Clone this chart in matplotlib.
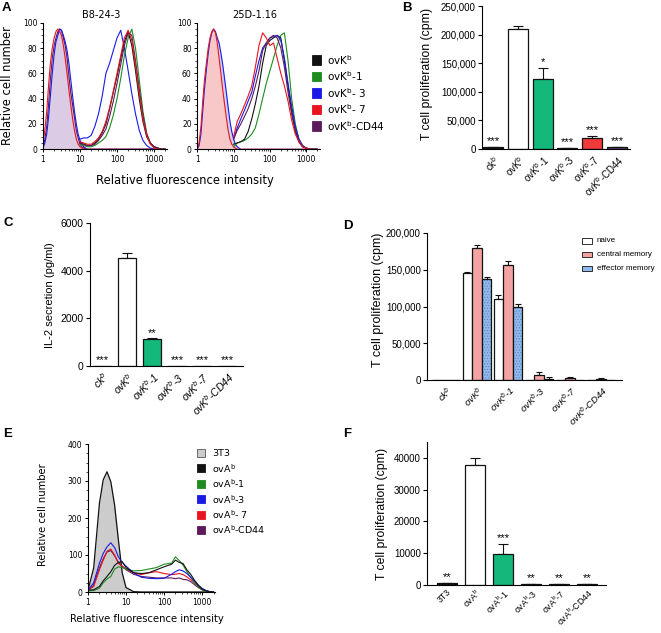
import numpy as np
import matplotlib
matplotlib.use("Agg")
import matplotlib.pyplot as plt
from matplotlib.patches import Rectangle
from matplotlib.ticker import AutoMinorLocator, FuncFormatter

W, H = 661, 633
HIST_FONT = ["DejaVu Sans"]
BAR_FONT = ["Liberation Sans", "DejaVu Sans"]

plt.rcParams["font.family"] = BAR_FONT
plt.rcParams["axes.linewidth"] = 0.8
plt.rcParams["hatch.linewidth"] = 0.5

C_BLACK, C_GREEN, C_BLUE, C_RED, C_PURPLE = "#111111", "#1e8c1e", "#1a1ae6", "#e8141e", "#5c1a5c"
BAR_GREEN, BAR_RED = "#14b87a", "#f03a3a"

# ===== Data =====
# A: flow histograms, x = relative fluorescence, y = relative cell number
lo_x = [1.0, 1.12, 1.26, 1.41, 1.58, 1.78, 2.0, 2.24, 2.51, 2.82, 3.16, 3.55, 3.98,
        4.47, 5.01, 5.62, 6.31, 7.08, 7.94, 8.91, 10.0, 11.2, 12.6, 14.1, 15.8, 2000]
hi_x = [10, 12.6, 15.8, 20, 25.1, 31.6, 39.8, 50.1, 63.1, 79.4, 100, 126, 158, 200,
        251, 316, 398, 501, 631, 794, 1000, 1259, 1585, 1995]

# B8-24-3
a1_iso = [2, 8, 18, 35, 55, 72, 82, 88, 93, 95, 94, 88, 82, 72, 58, 45, 35, 25, 15, 9, 4, 2, 1, 0, 0, 0]
a1_iso_red = [5, 15, 30, 50, 68, 80, 88, 93, 95, 93, 90, 82, 72, 60, 47, 35, 24, 15, 8, 4, 2, 1, 0, 0, 0, 0]
a1_iso_blue = [1, 5, 12, 25, 42, 60, 75, 85, 90, 95, 94, 90, 85, 78, 68, 55, 42, 30, 20, 12, 7, 4, 2, 1, 0, 0]
a1_black = [5, 4, 3, 3, 5, 8, 13, 20, 32, 45, 58, 72, 85, 93, 82, 62, 40, 22, 10, 5, 2, 1, 0, 0]
a1_red = [6, 5, 4, 4, 6, 9, 14, 22, 33, 46, 60, 74, 88, 94, 86, 66, 44, 24, 11, 4, 1, 0, 0, 0]
a1_purple = [5, 4, 3, 3, 4, 7, 11, 16, 26, 38, 52, 67, 82, 92, 90, 70, 48, 27, 12, 5, 2, 1, 0, 0]
a1_green = [4, 3, 2, 2, 3, 5, 7, 10, 17, 27, 40, 56, 74, 88, 95, 80, 55, 30, 13, 5, 2, 1, 0, 0]
a1_blue = [8, 9, 9, 11, 18, 28, 42, 60, 68, 78, 88, 94, 80, 62, 44, 28, 15, 7, 3, 1, 0, 0, 0, 0]

# 25D-1.16
a2_iso_red = [0, 5, 18, 38, 55, 68, 80, 88, 93, 95, 92, 84, 72, 60, 47, 36, 25, 15, 8, 4, 2, 1, 0, 0, 0, 0]
a2_iso_blue = [0, 3, 12, 30, 48, 63, 76, 86, 92, 95, 93, 88, 84, 76, 67, 56, 45, 33, 22, 14, 8, 4, 2, 1, 0, 0]
a2_red = [10, 22, 28, 35, 42, 50, 65, 82, 92, 88, 82, 84, 72, 60, 50, 38, 23, 12, 6, 2, 1, 0, 0, 0]
a2_purple = [8, 15, 20, 26, 32, 40, 50, 62, 78, 84, 88, 90, 88, 80, 65, 45, 28, 14, 6, 2, 1, 0, 0, 0]
a2_blue = [8, 17, 24, 31, 38, 45, 58, 70, 80, 84, 88, 89, 90, 86, 72, 52, 34, 18, 8, 3, 1, 0, 0, 0]
a2_black = [4, 5, 6, 8, 14, 24, 36, 50, 68, 82, 86, 88, 90, 88, 70, 50, 30, 15, 6, 2, 1, 0, 0, 0]
a2_green = [2, 5, 6, 7, 9, 12, 17, 28, 40, 52, 62, 72, 82, 90, 92, 70, 40, 20, 8, 3, 1, 0, 0, 0]

a_legend = ["ovK$^\\mathregular{b}$", "ovK$^\\mathregular{b}$-1", "ovK$^\\mathregular{b}$- 3",
            "ovK$^\\mathregular{b}$- 7", "ovK$^\\mathregular{b}$-CD44"]

# E: ovA histograms
e_x = [1.0, 1.41, 2.0, 2.51, 3.16, 3.98, 5.01, 6.31, 7.94, 10, 15.8, 25.1, 39.8, 63.1,
       100, 158, 200, 251, 316, 398, 501, 631, 794, 1000, 1259, 1585, 1995]
e_3t3 = [5, 65, 240, 303, 325, 298, 235, 140, 52, 12, 1, 0, 0, 0, 0, 0, 0, 0, 0, 0, 0, 0, 0, 0, 0, 0, 0]
e_blue = [5, 25, 78, 104, 122, 133, 120, 95, 80, 70, 52, 40, 37, 36, 37, 48, 55, 60, 57, 50, 40, 30, 18, 10, 4, 1, 0]
e_red = [5, 15, 60, 86, 110, 116, 100, 77, 70, 62, 52, 47, 52, 55, 50, 47, 48, 50, 47, 41, 33, 25, 15, 8, 4, 1, 0]
e_black = [5, 6, 15, 30, 42, 55, 72, 80, 82, 66, 52, 50, 52, 60, 68, 75, 86, 80, 77, 60, 48, 32, 19, 8, 3, 1, 0]
e_green = [3, 4, 10, 25, 35, 42, 62, 68, 66, 62, 57, 58, 62, 66, 75, 78, 95, 85, 73, 55, 40, 25, 15, 6, 2, 0, 0]
e_purple = [5, 18, 65, 90, 108, 112, 98, 80, 70, 60, 48, 42, 40, 38, 38, 38, 36, 38, 34, 33, 28, 20, 12, 6, 2, 0, 0]
e_legend = ["3T3", "ovA$^\\mathregular{b}$", "ovA$^\\mathregular{b}$-1", "ovA$^\\mathregular{b}$-3",
            "ovA$^\\mathregular{b}$- 7", "ovA$^\\mathregular{b}$-CD44"]

# B/C/D: ovK constructs
k_labels = ["ck$^\\mathregular{b}$", "ovK$^\\mathregular{b}$", "ovK$^\\mathregular{b}$-1",
            "ovK$^\\mathregular{b}$-3", "ovK$^\\mathregular{b}$-7", "ovK$^\\mathregular{b}$-CD44"]
b_vals = [3000, 210000, 122000, 1500, 20000, 3000]
b_err = [1000, 5000, 20000, 500, 3000, 1000]
b_stars = ["***", "", "*", "***", "***", "***"]

c_vals = [0, 4520, 1120, 0, 0, 0]
c_err = [0, 230, 40, 0, 0, 0]
c_stars = ["***", "", "**", "***", "***", "***"]

d_naive = [0, 145000, 110000, 500, 500, 500]
d_naive_err = [0, 2500, 6000, 0, 0, 0]
d_central = [0, 180000, 156000, 7000, 3000, 2000]
d_central_err = [0, 4000, 6000, 4000, 1000, 1000]
d_effector = [0, 137000, 100000, 1500, 500, 500]
d_effector_err = [0, 2500, 4000, 2500, 0, 0]
d_legend = ["naive", "central memory", "effector memory"]

# F: ovA constructs
f_labels = ["3T3", "ovA$^\\mathregular{b}$", "ovA$^\\mathregular{b}$-1", "ovA$^\\mathregular{b}$-3",
            "ovA$^\\mathregular{b}$-7", "ovA$^\\mathregular{b}$-CD44"]
f_vals = [500, 37800, 9700, 300, 300, 300]
f_err = [200, 2200, 3200, 100, 100, 100]
f_stars = ["**", "", "***", "**", "**", "**"]

fig = plt.figure(figsize=(W / 100, H / 100), dpi=100)


def px_axes(x0, x1, ytop, ybot):
    return fig.add_axes([x0 / W, 1 - ybot / H, (x1 - x0) / W, (ybot - ytop) / H])


def ftext(x, y, s, **kw):
    fig.text(x / W, 1 - y / H, s, **kw)


def swatches(entries, x, y, step, w, h, gap, fs, family):
    for i, (lab, fc, ec, hatch) in enumerate(entries):
        yy = y + i * step
        fig.add_artist(Rectangle((x / W, 1 - (yy + h / 2) / H), w / W, h / H,
                                 transform=fig.transFigure, facecolor=fc, edgecolor=ec,
                                 lw=0.6, hatch=hatch))
        ftext(x + w + gap, yy, lab, va="center", fontsize=fs, family=family)


def style_hist(ax, xmax, ymax, ystep):
    ax.set_xscale("log")
    ax.set_xlim(1, xmax)
    ax.set_ylim(0, ymax)
    ax.set_xticks([1, 10, 100, 1000])
    ax.set_xticklabels(["1", "10", "100", "1000"])
    ax.set_yticks(np.arange(0, ymax + 1, ystep))
    ax.yaxis.set_minor_locator(AutoMinorLocator(4))
    for s in ["top", "right"]:
        ax.spines[s].set_visible(False)
    ax.tick_params(labelsize=5.5, length=2.5, width=0.7, pad=1.5)
    ax.tick_params(which="minor", length=1.3, width=0.5)
    for t in ax.get_xticklabels() + ax.get_yticklabels():
        t.set_family(HIST_FONT)


def style_bar(ax, labels, xlim, ymax, yticks, fs, xfs, italic=False, comma=False, xpad=3):
    ax.set_xlim(*xlim)
    ax.set_ylim(0, ymax)
    ax.set_yticks(yticks)
    if comma:
        ax.yaxis.set_major_formatter(FuncFormatter(lambda v, p: f"{int(v):,}"))
    ax.set_xticks(range(len(labels)))
    ax.set_xticklabels(labels, rotation=45, ha="right", rotation_mode="anchor",
                       fontsize=xfs, fontstyle="italic" if italic else "normal")
    for s in ["top", "right"]:
        ax.spines[s].set_visible(False)
    ax.tick_params(axis="y", labelsize=fs, length=3, width=0.8, pad=1.5)
    ax.tick_params(axis="x", length=0, pad=xpad)


def draw_bars(ax, vals, err, colors, stars, width, star_fs=8):
    x = np.arange(len(vals))
    ax.bar(x, vals, width, color=colors, edgecolor=C_BLACK, lw=0.9, zorder=2)
    m = np.array(err) > 0
    ax.errorbar(x[m], np.array(vals)[m], yerr=[np.zeros(m.sum()), np.array(err)[m]],
                fmt="none", ecolor=C_BLACK, elinewidth=0.8, capsize=3.5, capthick=0.8, zorder=1)
    for xi, v, e, s in zip(x, vals, err, stars):
        if s:
            ax.annotate(s, (xi, v + e), xytext=(0, 0.5), textcoords="offset points",
                        ha="center", va="bottom", fontsize=star_fs)


# ===== A =====
ax = px_axes(43, 167, 22.7, 149.3)
ax.fill_between(lo_x, a1_iso, color="#dccbe4", lw=0)
ax.plot(lo_x, a1_iso, color=C_PURPLE, lw=0.8)
ax.plot(lo_x, a1_iso_blue, color=C_BLUE, lw=0.8)
ax.plot(lo_x, a1_iso_red, color=C_RED, lw=0.8)
for ys, c in [(a1_blue, C_BLUE), (a1_green, C_GREEN), (a1_black, C_BLACK),
              (a1_purple, C_PURPLE), (a1_red, C_RED)]:
    ax.plot(hi_x, ys, color=c, lw=0.8)
style_hist(ax, 2240, 100, 20)
ftext(101, 15, "B8-24-3", ha="center", va="center", fontsize=7, family=HIST_FONT)

ax = px_axes(197.3, 320, 22.7, 149.3)
ax.fill_between(lo_x, a2_iso_blue, color="#cdd3f3", lw=0)
ax.plot(lo_x, a2_iso_blue, color=C_BLUE, lw=0.8)
ax.fill_between(lo_x, a2_iso_red, color="#f8c8c8", lw=0)
ax.plot(lo_x, a2_iso_red, color=C_RED, lw=0.8)
for ys, c in [(a2_green, C_GREEN), (a2_black, C_BLACK), (a2_blue, C_BLUE),
              (a2_purple, C_PURPLE), (a2_red, C_RED)]:
    ax.plot(hi_x, ys, color=c, lw=0.8)
style_hist(ax, 2400, 100, 20)
ftext(255, 15, "25D-1.16", ha="center", va="center", fontsize=7, family=HIST_FONT)

ftext(8, 86, "Relative cell number", rotation=90, ha="center", va="center",
      fontsize=8.3, family=HIST_FONT)
ftext(185, 180, "Relative fluorescence intensity", ha="center", va="center",
      fontsize=8.3, family=HIST_FONT)
swatches([(l, c, c, None) for l, c in zip(a_legend, [C_BLACK, C_GREEN, C_BLUE, C_RED, C_PURPLE])],
         312, 60, 16.5, 9, 9, 6, 7.5, HIST_FONT)

# ===== B =====
ax = px_axes(482, 630, 6, 149)
draw_bars(ax, b_vals, b_err, [C_BLACK, "white", BAR_GREEN, C_BLACK, BAR_RED, "#6a3a7a"], b_stars, 0.8)
style_bar(ax, k_labels, (-0.44, 5.52), 250000, np.arange(0, 250001, 50000), 7, 7, comma=True)
ftext(427, 74, "T cell proliferation (cpm)", rotation=90, ha="center", va="center", fontsize=8.8)

# ===== C =====
ax = px_axes(90, 243, 223, 366)
draw_bars(ax, c_vals, c_err, ["white", "white", BAR_GREEN, "white", "white", "white"], c_stars, 0.74)
style_bar(ax, k_labels, (-0.48, 5.64), 6000, [0, 2000, 4000, 6000], 7.5, 7.5, italic=True)
ftext(50, 295, "IL-2 secretion (pg/ml)", rotation=90, ha="center", va="center", fontsize=8)

# ===== D =====
ax = px_axes(427, 622, 233, 380)
gx = np.arange(len(k_labels))
bw = 0.3
for off, vals, err, fc, hatch in [(-0.31, d_naive, d_naive_err, "white", None),
                                  (0.0, d_central, d_central_err, "#f4a3a3", None),
                                  (0.31, d_effector, d_effector_err, "#8fb8ea", "......")]:
    if hatch:
        ax.bar(gx + off, vals, bw, color=fc, edgecolor="#5d86c6", hatch=hatch, lw=0, zorder=2)
        ax.bar(gx + off, vals, bw, fill=False, edgecolor=C_BLACK, lw=0.9, zorder=2)
    else:
        ax.bar(gx + off, vals, bw, color=fc, edgecolor=C_BLACK, lw=0.9, zorder=2)
    m = np.array(err) > 0
    ax.errorbar((gx + off)[m], np.array(vals)[m], yerr=[np.zeros(m.sum()), np.array(err)[m]],
                fmt="none", ecolor=C_BLACK, elinewidth=0.8, capsize=2, capthick=0.8, zorder=1)
style_bar(ax, k_labels, (-0.61, 5.68), 200000, np.arange(0, 200001, 50000), 7, 6.8,
          italic=True, comma=True)
ftext(378, 300, "T cell proliferation (cpm)", rotation=90, ha="center", va="center", fontsize=9)
swatches([(d_legend[0], "white", C_BLACK, None), (d_legend[1], "#f4a3a3", C_BLACK, None),
          (d_legend[2], "#8fb8ea", C_BLACK, None)], 582, 241, 13.5, 10, 5, 5, 5.8, BAR_FONT)

# ===== E =====
ax = px_axes(88, 215, 444, 592)
ax.fill_between(e_x, e_3t3, color="#cccccc", lw=0)
ax.plot(e_x, e_3t3, color=C_BLACK, lw=0.9)
for ys, c in [(e_purple, C_PURPLE), (e_red, C_RED), (e_green, C_GREEN), (e_blue, C_BLUE), (e_black, C_BLACK)]:
    ax.plot(e_x, ys, color=c, lw=0.8)
style_hist(ax, 2190, 400, 100)
ftext(43, 515, "Relative cell number", rotation=90, ha="center", va="center", fontsize=7.2, family=HIST_FONT)
ftext(147, 619, "Relative fluorescence intensity", ha="center", va="center", fontsize=7.2, family=HIST_FONT)
swatches([(l, c, ec, None) for l, c, ec in zip(
    e_legend, ["#cccccc", C_BLACK, C_GREEN, C_BLUE, C_RED, C_PURPLE],
    ["#555555", C_BLACK, C_GREEN, C_BLUE, C_RED, C_PURPLE])],
    197, 453, 15.4, 8, 8, 7, 6.8, HIST_FONT)

# ===== F =====
ax = px_axes(427, 606, 442, 585)
draw_bars(ax, f_vals, f_err, [C_BLACK, "white", BAR_GREEN, C_BLACK, C_BLACK, C_BLACK], f_stars, 0.72)
style_bar(ax, f_labels, (-0.71, 5.68), 45000, np.arange(0, 40001, 10000), 7, 6.3, xpad=1.5)
ftext(382, 514, "T cell proliferation (cpm)", rotation=90, ha="center", va="center", fontsize=8.8)

# panel letters
for lab, x, y in [("A", 2, 8), ("B", 402, 8), ("C", 3, 223), ("D", 343, 226), ("E", 3, 434), ("F", 343, 434)]:
    ftext(x, y, lab, fontsize=9.5, fontweight="bold", va="center")

fig.savefig("out.png", dpi=100)
